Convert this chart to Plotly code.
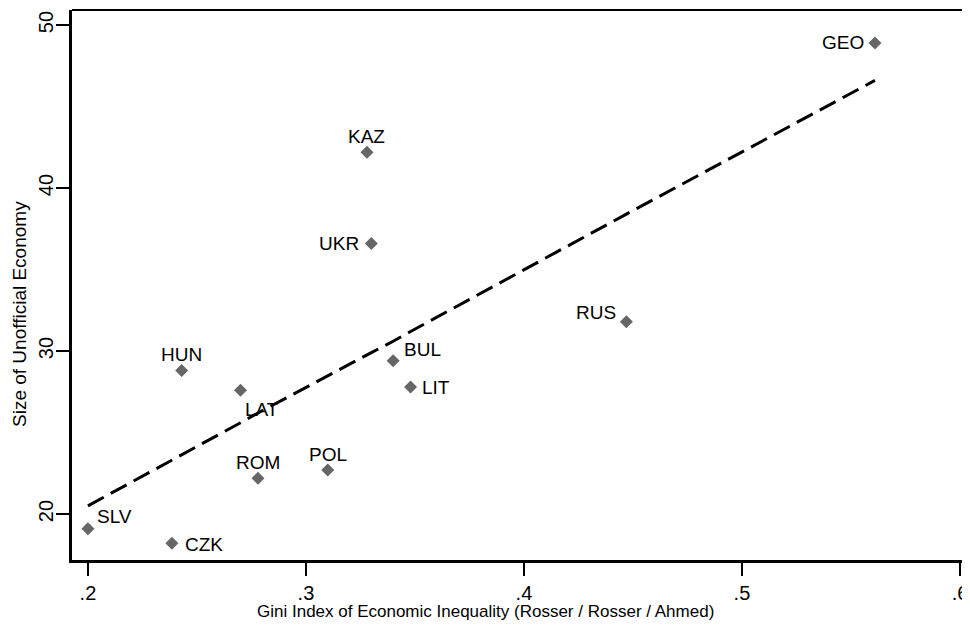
import plotly.graph_objects as go

# ---- data ----
countries = ["GEO", "KAZ", "UKR", "RUS", "HUN", "BUL", "LIT", "LAT", "POL", "ROM", "SLV", "CZK"]
gini = [0.561, 0.328, 0.330, 0.447, 0.243, 0.340, 0.348, 0.270, 0.310, 0.278, 0.200, 0.2385]
unofficial = [48.9, 42.2, 36.6, 31.8, 28.8, 29.4, 27.8, 27.6, 22.7, 22.2, 19.1, 18.2]

fit_x = [0.200, 0.2385, 0.243, 0.270, 0.278, 0.310, 0.328, 0.330, 0.340, 0.348, 0.447, 0.561]
fit_y = [20.5, 23.3, 23.6, 25.6, 26.2, 28.5, 29.8, 29.9, 30.6, 31.2, 38.4, 46.6]

x_tickvals = [0.2, 0.3, 0.4, 0.5, 0.6]
x_ticktext = [".2", ".3", ".4", ".5", ".6"]
y_tickvals = [20, 30, 40, 50]
y_ticktext = ["20", "30", "40", "50"]

x_title = "Gini Index of Economic Inequality (Rosser / Rosser / Ahmed)"
y_title = "Size of Unofficial Economy"

# ---- label placement (style only) ----
label_style = {
    "GEO": ("right", -9, 0),
    "KAZ": ("center", 0, 16),
    "UKR": ("right", -10, 0),
    "RUS": ("right", -8, 9),
    "HUN": ("center", 0, 16),
    "BUL": ("left", 9, 11),
    "LIT": ("left", 9, -1),
    "LAT": ("center", 21, -19),
    "POL": ("center", 0, 16),
    "ROM": ("center", 0, 16),
    "SLV": ("left", 7, 12),
    "CZK": ("left", 11, -1),
}

FONT = "Liberation Sans, Arial, sans-serif"

# page body has an 8px margin: figure is placed at (8, 8) in the window
W, H = 962, 620
L, T, B, R = 64, 2, 68, 0
PW, PH = W - L - R, H - T - B

fig = go.Figure()

fig.add_trace(go.Scatter(
    x=fit_x, y=fit_y, mode="lines",
    line=dict(color="black", width=3, dash="18px,8px"),
    hoverinfo="skip", showlegend=False,
))

fig.add_trace(go.Scatter(
    x=gini, y=unofficial, mode="markers",
    marker=dict(symbol="diamond", size=10, color="#666666", line=dict(width=0)),
    text=countries, showlegend=False,
))

for c, xv, yv in zip(countries, gini, unofficial):
    anchor, dx, dy = label_style[c]
    fig.add_annotation(
        x=xv, y=yv, xref="x", yref="y", text=c, showarrow=False,
        xanchor=anchor, yanchor="middle", xshift=dx, yshift=dy,
        font=dict(family=FONT, size=19, color="black"),
    )

# axis titles (positions in figure pixels)
fig.add_annotation(
    x=(477 - L) / PW, y=-(603 - (T + PH)) / PH, xref="paper", yref="paper",
    text=x_title, showarrow=False, xanchor="center", yanchor="middle",
    font=dict(family=FONT, size=17, color="black"),
)
fig.add_annotation(
    x=-(L - 11) / PW, y=((T + PH) - 306) / PH, xref="paper", yref="paper",
    text=y_title, showarrow=False, xanchor="center", yanchor="middle", textangle=-90,
    font=dict(family=FONT, size=19, color="black"),
)

# top border line
fig.add_shape(type="line", xref="paper", yref="paper", x0=0, x1=1, y0=1, y1=1,
              line=dict(color="black", width=2))

fig.update_layout(
    width=W, height=H,
    margin=dict(l=L, r=R, t=T, b=B),
    paper_bgcolor="white", plot_bgcolor="white",
    font=dict(family=FONT, color="black"),
    xaxis=dict(
        range=[0.1927, 0.6046], tickvals=x_tickvals, ticktext=x_ticktext,
        showgrid=False, zeroline=False, showline=True, linecolor="black", linewidth=3,
        ticks="outside", ticklen=13, tickwidth=2, tickcolor="black",
        tickfont=dict(family=FONT, size=20), automargin=False,
    ),
    yaxis=dict(
        range=[17.18, 50.92], tickvals=y_tickvals, ticktext=y_ticktext,
        showgrid=False, zeroline=False, showline=True, linecolor="black", linewidth=3,
        ticks="outside", ticklen=13, tickwidth=2, tickcolor="black", tickangle=-90,
        tickfont=dict(family=FONT, size=20), automargin=False, ticklabelstandoff=-5,
    ),
)

fig.write_html("out.html")
